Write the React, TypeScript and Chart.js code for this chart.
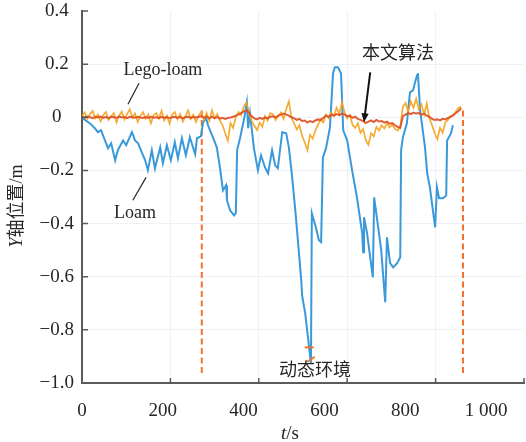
import React, { useEffect, useRef } from 'react';
import { Chart, registerables } from 'chart.js';

Chart.register(...registerables);

const FONT = '"Liberation Serif", "Noto Sans CJK SC", serif';
const INK = '#262626';
const AXIS = '#5b5b5b';
const GRID = 'rgba(200,216,232,0.32)';
const DASH = '#f2722e';

// Loam: time (s) and Y position (m)
const loamT = [
  2, 18, 29, 36, 43, 52, 59, 66, 75, 81,
  93, 100, 113, 120, 127, 136, 143, 149, 158, 165,
  177, 183, 192, 201, 210, 217, 226, 235, 244, 256,
  260, 269, 274, 281, 285, 296, 305, 312, 319, 326,
  328, 335, 344, 348, 351, 358, 367, 373, 376, 380,
  389, 398, 405, 414, 421, 430, 437, 443, 453, 462,
  468, 475, 484, 496, 498, 505, 518, 520, 529, 536,
  541, 545, 552, 561, 568, 572, 579, 586, 591, 600,
  611, 622, 634, 636, 638, 645, 652, 658, 661, 667,
  677, 686, 690, 697, 704, 713, 720, 722, 726, 735,
  742, 749, 753, 758, 760, 765, 776, 781, 787, 799,
  803, 808, 817, 824, 826, 835, 839,
];
const loamY = [
  -0.004, -0.023, -0.041, -0.056, -0.049, -0.087, -0.117, -0.098, -0.162, -0.124,
  -0.087, -0.105, -0.056, -0.087, -0.098, -0.135, -0.162, -0.199, -0.124, -0.192,
  -0.113, -0.173, -0.105, -0.162, -0.094, -0.154, -0.079, -0.143, -0.075, -0.139,
  -0.079, -0.072, -0.019, -0.004, -0.030, -0.075, -0.113, -0.188, -0.275, -0.256,
  -0.312, -0.350, -0.369, -0.361, -0.124, -0.075, -0.004, 0.056, -0.041, 0.015,
  -0.117, -0.199, -0.143, -0.188, -0.211, -0.124, -0.181, -0.192, -0.056, -0.060,
  -0.113, -0.218, -0.376, -0.613, -0.670, -0.738, -0.926, -0.361, -0.414, -0.463,
  -0.470, -0.151, -0.117, -0.038, 0.166, 0.188, 0.188, 0.166, -0.049, -0.087,
  -0.199, -0.301, -0.437, -0.508, -0.376, -0.437, -0.527, -0.602, -0.301, -0.376,
  -0.501, -0.696, -0.452, -0.549, -0.565, -0.549, -0.527, -0.124, -0.075, -0.023,
  0.094, 0.102, 0.128, 0.158, 0.166, 0.026, -0.113, -0.211, -0.263, -0.414,
  -0.263, -0.305, -0.305, -0.294, -0.087, -0.060, -0.030,
];

// Lego-loam and the proposed method are logged every SAMPLE_DT seconds from t = 0
const SAMPLE_DT = 6;
const legoY = [
  0.005, 0.018, -0.006, 0.012, 0.024, -0.004, 0.010, -0.015, 0.008, 0.020, -0.010, 0.004,
  0.016, -0.020, 0.006, 0.022, -0.008, 0.012, 0.030, -0.002, 0.014, -0.018, 0.006, 0.019,
  -0.006, 0.010, -0.022, 0.008, 0.016, -0.004, 0.024, -0.012, 0.006, -0.024, 0.010, 0.020,
  -0.008, 0.012, -0.016, 0.004, 0.026, -0.006, 0.010, -0.018, 0.006, 0.020, -0.010, 0.016,
  -0.014, 0.026, -0.004, 0.012, -0.012, -0.030, -0.060, -0.088, -0.022, -0.040, 0.002, 0.020,
  0.008, 0.040, 0.056, 0.018, -0.015, -0.032, -0.048, -0.020, -0.036, 0.004, -0.012, 0.016,
  0.012, -0.010, 0.004, 0.018, -0.006, 0.030, 0.060, -0.002, -0.024, -0.046, -0.030, -0.070,
  -0.095, -0.124, -0.066, -0.080, -0.050, -0.028, -0.008, -0.020, 0.010, -0.004, 0.018, 0.004,
  0.036, 0.012, 0.056, 0.020, -0.004, 0.008, -0.028, -0.040, -0.022, -0.058, -0.044, -0.086,
  -0.104, -0.060, -0.072, -0.036, -0.050, -0.030, -0.042, -0.022, -0.038, -0.028, -0.044, -0.050,
  -0.034, 0.040, 0.054, 0.020, 0.060, 0.036, 0.070, 0.030, 0.048, 0.010, 0.052, -0.004,
  -0.030, -0.060, -0.082, -0.040, -0.058, -0.020, -0.010, 0.004, 0.008, 0.022, 0.036, 0.040,
];
const oursY = [
  0.002, -0.002, 0.003, 0.000, -0.003, 0.002, -0.001, 0.003, -0.002, 0.001, -0.003, 0.002,
  0.000, -0.002, 0.003, -0.001, 0.001, -0.003, 0.002, 0.000, -0.002, 0.002, -0.001, -0.003,
  0.001, -0.002, 0.002, -0.001, 0.000, -0.003, 0.002, -0.002, 0.001, -0.003, 0.000, 0.002,
  -0.002, 0.001, -0.003, 0.000, 0.002, -0.002, 0.001, -0.001, 0.002, 0.004, -0.002, 0.003,
  -0.004, 0.002, -0.003, 0.001, -0.005, -0.002, -0.006, -0.003, -0.001, 0.002, 0.006, 0.010,
  0.016, 0.022, 0.026, 0.016, 0.004, -0.004, -0.008, -0.002, -0.006, 0.000, -0.004, 0.002,
  0.004, 0.000, 0.006, 0.010, 0.014, 0.010, 0.006, 0.000, -0.004, -0.010, -0.006, -0.014,
  -0.012, -0.020, -0.014, -0.018, -0.012, -0.008, -0.010, -0.002, 0.006, 0.002, 0.010, 0.006,
  0.012, 0.008, 0.014, 0.010, 0.004, 0.006, -0.002, 0.002, -0.006, -0.010, -0.014, -0.022,
  -0.016, -0.012, -0.018, -0.010, -0.016, -0.014, -0.020, -0.016, -0.024, -0.022, -0.030, -0.036,
  -0.040, 0.004, 0.010, 0.016, 0.012, 0.018, 0.014, 0.016, 0.010, 0.014, 0.006, 0.002,
  -0.006, -0.010, -0.008, -0.012, -0.006, -0.008, -0.002, 0.002, 0.008, 0.016, 0.024, 0.034,
];

// Boundaries of the dynamic-environment segment (s) and their vertical extent (m)
const segmentT = [271, 862];
const segmentTop = 0.026;
const segmentBottom = -0.971;

// Marks at the deepest Loam excursion
const dipMarkT = [514, 518];
const dipMarkY = [-0.866, -0.911];

const xTicks = [0, 200, 400, 600, 800, 1000];
const yTicks = [0.4, 0.2, 0, -0.2, -0.4, -0.6, -0.8, -1.0];

// Callout anchors in data coordinates
const legoLabel = { t: 183, v: 0.177, text: 'Lego-loam' };
const legoLeader = [[129, 0.128], [104, 0.049]];
const loamLabel = { t: 120, v: -0.361, text: 'Loam' };
const loamLeader = [[145, -0.226], [115, -0.312]];
const oursLabel = { t: 715, v: 0.237, text: '本文算法' };
const oursArrow = [[652, 0.169], [638, -0.019]];
const dynLabel = { t: 527, v: -0.956, text: '动态环境' };

const fmtY = (v: number) => {
  if (Math.abs(v) < 1e-9) return '0';
  return (v < 0 ? '\u2212' : '') + Math.abs(v).toFixed(1);
};
const fmtX = (v: number) =>
  v >= 1000 ? `${Math.floor(v / 1000)} ${String(v % 1000).padStart(3, '0')}` : String(v);

function drawRich(ctx: CanvasRenderingContext2D, parts: [string, boolean][], cx: number, cy: number, size: number) {
  const widths = parts.map(([s, it]) => {
    ctx.font = `${it ? 'italic ' : ''}${size}px ${FONT}`;
    return ctx.measureText(s).width;
  });
  const total = widths.reduce((a, b) => a + b, 0);
  let x = cx - total / 2;
  ctx.textAlign = 'left';
  parts.forEach(([s, it], i) => {
    ctx.font = `${it ? 'italic ' : ''}${size}px ${FONT}`;
    ctx.fillText(s, x, cy);
    x += widths[i];
  });
}

const decorPlugin = {
  id: 'decor',
  afterDatasetsDraw(chart: any) {
    const { ctx, chartArea: a } = chart;
    const xs = chart.scales.x;
    const ys = chart.scales.y;
    const P = (t: number, v: number) => [xs.getPixelForValue(t), ys.getPixelForValue(v)];
    ctx.save();

    // tick marks pointing into the plot
    ctx.strokeStyle = AXIS;
    ctx.lineWidth = 1.5;
    ctx.beginPath();
    xTicks.forEach((v) => {
      if (v === 0) return;
      const px = xs.getPixelForValue(v);
      ctx.moveTo(px, a.bottom);
      ctx.lineTo(px, a.bottom - 5);
    });
    yTicks.forEach((v) => {
      const py = ys.getPixelForValue(v);
      ctx.moveTo(a.left, py);
      ctx.lineTo(a.left + 6, py);
    });
    ctx.stroke();

    // leader lines
    ctx.strokeStyle = INK;
    ctx.fillStyle = INK;
    ctx.lineWidth = 1.2;
    [legoLeader, loamLeader].forEach(([p, q]) => {
      const [x1, y1] = P(p[0], p[1]);
      const [x2, y2] = P(q[0], q[1]);
      ctx.beginPath();
      ctx.moveTo(x1, y1);
      ctx.lineTo(x2, y2);
      ctx.stroke();
    });

    // arrow towards the proposed method
    {
      const [x1, y1] = P(oursArrow[0][0], oursArrow[0][1]);
      const [x2, y2] = P(oursArrow[1][0], oursArrow[1][1]);
      const ang = Math.atan2(y2 - y1, x2 - x1);
      const head = 9;
      const half = 3.6;
      ctx.lineWidth = 2;
      ctx.strokeStyle = '#111';
      ctx.fillStyle = '#111';
      ctx.beginPath();
      ctx.moveTo(x1, y1);
      ctx.lineTo(x2 - Math.cos(ang) * head * 0.8, y2 - Math.sin(ang) * head * 0.8);
      ctx.stroke();
      ctx.beginPath();
      ctx.moveTo(x2, y2);
      ctx.lineTo(x2 - Math.cos(ang) * head + Math.sin(ang) * half, y2 - Math.sin(ang) * head - Math.cos(ang) * half);
      ctx.lineTo(x2 - Math.cos(ang) * head - Math.sin(ang) * half, y2 - Math.sin(ang) * head + Math.cos(ang) * half);
      ctx.closePath();
      ctx.fill();
    }

    // callout texts
    ctx.fillStyle = INK;
    ctx.textAlign = 'center';
    ctx.textBaseline = 'middle';
    ctx.font = `18px ${FONT}`;
    [legoLabel, loamLabel, oursLabel, dynLabel].forEach((l) => {
      const [x, y] = P(l.t, l.v);
      ctx.fillText(l.text, x, y);
    });

    // axis titles
    ctx.save();
    ctx.translate(17, 206);
    ctx.rotate(-Math.PI / 2);
    ctx.textBaseline = 'middle';
    drawRich(ctx, [['Y', true], ['轴位置/m', false]], 0, 0, 18);
    ctx.restore();

    ctx.textBaseline = 'alphabetic';
    drawRich(ctx, [['t', true], ['/s', false]], 290, 439, 19);

    ctx.restore();
  },
};

// Keep the plot box fixed: no extra room for tick-label overflow
const noOverflow = (s: any) => {
  s.paddingLeft = 0;
  s.paddingRight = 0;
  s.paddingTop = 0;
  s.paddingBottom = 0;
};

export default function App() {
  const ref = useRef<HTMLCanvasElement | null>(null);

  useEffect(() => {
    if (!ref.current) return;
    const loam = loamT.map((t, i) => ({ x: t, y: loamY[i] }));
    const lego = legoY.map((v, i) => ({ x: i * SAMPLE_DT, y: v }));
    const ours = oursY.map((v, i) => ({ x: i * SAMPLE_DT, y: v }));
    const marks = dipMarkT.map((t, i) => ({ x: t, y: dipMarkY[i] }));
    const seg = (t: number) => [
      { x: t, y: segmentTop },
      { x: t, y: segmentBottom },
    ];
    const hideEdge = (edge: number) => (c: any) =>
      c.tick && Math.abs(c.tick.value - edge) < 1e-9 ? 'rgba(0,0,0,0)' : GRID;

    const chart = new Chart(ref.current, {
      type: 'line',
      data: {
        datasets: [
          {
            label: 'marks',
            data: marks,
            showLine: false,
            pointStyle: 'line',
            pointRadius: 4.5,
            pointRotation: [0, -35],
            pointBorderColor: DASH,
            pointBorderWidth: 2,
            borderColor: DASH,
          } as any,
          {
            label: '本文算法',
            data: ours,
            borderColor: 'rgba(222,80,36,0.92)',
            borderWidth: 2,
            pointRadius: 0,
          },
          {
            label: 'Lego-loam',
            data: lego,
            borderColor: 'rgba(244,163,30,0.9)',
            borderWidth: 1.7,
            pointRadius: 0,
          },
          {
            label: 'Loam',
            data: loam,
            borderColor: '#3a99da',
            borderWidth: 2,
            pointRadius: 0,
          },
          {
            label: 'segment start',
            data: seg(segmentT[0]),
            borderColor: DASH,
            borderWidth: 2,
            borderDash: [6, 3.5],
            pointRadius: 0,
          },
          {
            label: 'segment end',
            data: seg(segmentT[1]),
            borderColor: DASH,
            borderWidth: 2,
            borderDash: [6, 3.5],
            pointRadius: 0,
          },
        ],
      },
      options: {
        responsive: false,
        animation: false,
        devicePixelRatio: 1,
        layout: { autoPadding: false, padding: { left: 0, right: 2, top: 11, bottom: 0 } },
        plugins: { legend: { display: false }, tooltip: { enabled: false } },
        elements: { line: { tension: 0 } },
        scales: {
          x: {
            type: 'linear',
            position: 'bottom',
            weight: 0,
            min: 0,
            max: 1000,
            ticks: { display: false, stepSize: 200 },
            grid: { color: hideEdge(1000), lineWidth: 1, drawTicks: false },
            border: { color: AXIS, width: 2 },
            afterFit: (s: any) => {
              s.height = 0;
              noOverflow(s);
            },
          },
          xl: {
            type: 'linear',
            position: 'bottom',
            weight: 1,
            min: 0,
            max: 1094,
            ticks: {
              stepSize: 200,
              includeBounds: false,
              autoSkip: false,
              maxRotation: 0,
              padding: 17,
              color: INK,
              font: { family: FONT, size: 19 },
              callback: (v: any) => fmtX(Number(v)),
            },
            grid: { display: false, drawTicks: false },
            border: { display: false },
            afterFit: (s: any) => {
              s.height = 59;
              noOverflow(s);
            },
          },
          y: {
            type: 'linear',
            min: -1,
            max: 0.4,
            ticks: {
              stepSize: 0.2,
              crossAlign: 'center',
              padding: 8,
              color: INK,
              font: { family: FONT, size: 19 },
              callback: (v: any) => fmtY(Number(v)),
            },
            grid: { color: hideEdge(0.4), lineWidth: 1, drawTicks: false },
            border: { color: AXIS, width: 2 },
            afterFit: (s: any) => {
              s.width = 82;
              noOverflow(s);
            },
          },
        } as any,
      },
      plugins: [decorPlugin],
    });
    return () => chart.destroy();
  }, []);

  return (
    <div style={{ position: 'fixed', left: 0, top: 0, width: 526, height: 442, background: '#fff' }}>
      <canvas ref={ref} width={526} height={442} style={{ display: 'block' }} />
    </div>
  );
}
